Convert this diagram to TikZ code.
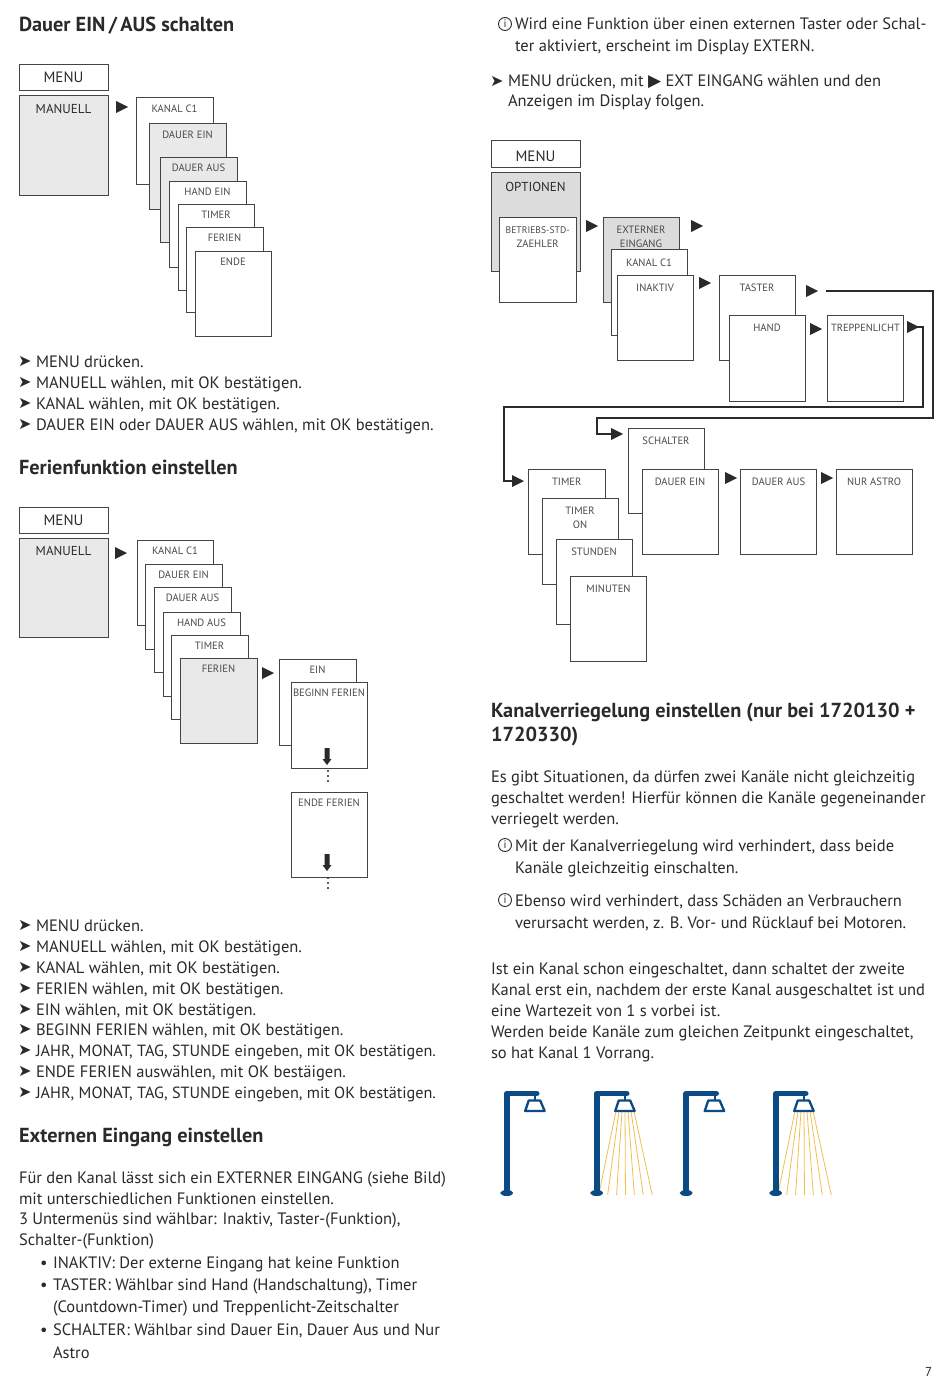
\documentclass[tikz,border=0pt]{standalone}
\usepackage{fontspec}
\usetikzlibrary{calc}
\setmainfont{PT Sans}
\newfontfamily\djf{DejaVu Sans}
\definecolor{ink}{HTML}{2A2A2A}
\definecolor{boxline}{HTML}{444444}
\definecolor{lite}{HTML}{E9E9E9}
\definecolor{midg}{HTML}{DCDCDC}
\definecolor{lampblue}{HTML}{0B4A82}
\definecolor{rayc}{HTML}{F2BE4E}
\newcounter{tn}
\newcommand\laby{14.5}
\tikzset{
  txt/.style={anchor=base west,inner sep=0pt,outer sep=0pt,text=ink,font=\fontsize{16.5}{21}\selectfont},
  head/.style={anchor=base west,inner sep=0pt,outer sep=0pt,text=ink,font=\fontsize{20.3}{24}\selectfont\bfseries},
  scrbox/.style={draw=boxline,line width=1pt,anchor=north west,inner sep=0pt,outer sep=0pt},
  scrlab/.style={anchor=base,inner sep=0pt,text=ink!85!white,align=center,font=\fontsize{10.6}{13.5}\selectfont},
  twolab/.style={scrlab,yshift=-13.5pt},
  biglab/.style={anchor=base,inner sep=0pt,text=ink,yshift=-3pt,font=\fontsize{13}{16}\selectfont},
  menulab/.style={anchor=base,inner sep=0pt,text=ink,yshift=-3.5pt,font=\fontsize{15}{18}\selectfont},
  conn/.style={draw=ink,line width=1.5pt,line join=miter},
  infoc/.style={circle,draw=ink,line width=.9pt,inner sep=0pt,minimum size=13pt,text=ink,font=\fontsize{11}{11}\selectfont},
  bul/.style={anchor=base west,inner sep=0pt,text=ink,font=\djf\fontsize{16}{16}\selectfont},
}
\newcommand\Tx[3]{\stepcounter{tn}\node[txt](t\thetn) at (#1,#2+6){#3};}
\newcommand\Tb[3]{\stepcounter{tn}\node[bul](b\thetn) at (#1-1,#2+5.5){➤};\node[txt](t\thetn) at (#1+17,#2+6){#3};}
\newcommand\Info[2]{\stepcounter{tn}\node[infoc](i\thetn) at (#1,#2){i};}
\newcommand\Hd[3]{\stepcounter{tn}\node[head](h\thetn) at (#1,#2+7){#3};}
\newcommand\Bx[8][scrlab]{%
  \pgfmathsetmacro\wv{#5-#3}\pgfmathsetmacro\hv{#6-#4}%
  \node[scrbox,fill=#7,minimum width=\wv pt,minimum height=\hv pt] (#2) at (#3,#4) {};
  \path (#2.north) ++(0,\laby) node[#1] (#2-t) {#8};
}
\newcommand\tri[3]{\coordinate (#1) at (#2,#3);\fill[ink] (#1) ++(0,-6) -- ++(12,6) -- ++(-12,6) -- cycle;}
\newcommand\downarr[3]{\coordinate (#1) at (#2,#3);\fill[ink] (#1) ++(-2.5,0) -- ++(5,0) -- ++(0,11) -- ++(2,0) -- ++(-4.5,6) -- ++(-4.5,-6) -- ++(2,0) -- cycle;}
\newcommand\vdotsn[3]{\coordinate (#1) at (#2,#3);\fill[ink] (#1) circle (1.1) ++(0,5) circle (1.1) ++(0,5) circle (1.1);}
\newcommand\lamp[2]{%
  \begin{scope}[shift={(#1,0)}]
  \ifnum#2=1
    \foreach \i in {0,...,6}{\draw[rayc,line width=.8pt] ({19.3+3*\i},1111) -- ({2+8.92*\i},1195);}
  \fi
  \draw[lampblue,line width=5.6pt,line join=round,line cap=round] (0,1192) -- (0,1093.5) -- (30,1093.5);
  \fill[lampblue] (0,1193) ellipse (6.5 and 3);
  \draw[lampblue,line width=1.8pt] (28.5,1093) -- (28.5,1100);
  \draw[lampblue,line width=2.3pt,line join=round,fill=white] (22,1100.5) -- (33.5,1100.5) -- (38,1111) -- (18.5,1111) -- cycle;
  \end{scope}}
\begin{document}
\begin{tikzpicture}[x=1pt,y=-1pt]
\useasboundingbox (0,0) rectangle (950,1378);
\fill[white] (0,0) rectangle (950,1378);

% --- left column, diagram 1
\Hd{19}{25}{Dauer EIN\,/\,AUS schalten}
\Bx[menulab]{m1}{19}{65}{108}{91}{white}{MENU}
\Bx[biglab]{m1b}{19}{96}{108}{195}{lite}{MANUELL}
\tri{a1}{116}{107}
\Bx{k1}{136}{98}{213}{184}{white}{KANAL C1}
\Bx{k2}{149}{124}{226}{209}{lite}{DAUER EIN}
\Bx{k3}{160}{157}{237}{242}{lite}{DAUER AUS}
\Bx{k4}{169}{181}{246}{267}{white}{HAND EIN}
\Bx{k5}{178}{204}{254}{290}{white}{TIMER}
\Bx{k6}{186}{227}{263}{312}{white}{FERIEN}
\Bx{k7}{195}{251}{271}{336}{white}{ENDE}
\Tb{19}{361}{MENU drücken.}
\Tb{19}{382}{MANUELL wählen, mit OK bestätigen.}
\Tb{19}{403}{KANAL wählen, mit OK bestätigen.}
\Tb{19}{424}{DAUER EIN oder DAUER AUS wählen, mit OK bestätigen.}

% --- left column, diagram 2
\Hd{19}{467}{Ferienfunktion einstellen}
\Bx[menulab]{m2}{19}{507}{108}{533}{white}{MENU}
\Bx[biglab]{m2b}{19}{538}{108}{637}{lite}{MANUELL}
\tri{a2}{115}{553}
\Bx{f1}{137}{540}{213}{625}{white}{KANAL C1}
\Bx{f2}{145}{564}{222}{649}{white}{DAUER EIN}
\Bx{f3}{154}{587}{231}{672}{white}{DAUER AUS}
\Bx{f4}{163}{612}{240}{696}{white}{HAND AUS}
\Bx{f5}{171}{635}{248}{719}{white}{TIMER}
\Bx{f6}{180}{658}{257}{743}{lite}{FERIEN}
\tri{a3}{262}{673}
\Bx{e1}{279}{659}{356}{745}{white}{EIN}
\Bx{e2}{291}{682}{367}{768}{white}{BEGINN FERIEN}
\downarr{d1}{327}{748}
\vdotsn{v1}{328}{771}
\Bx{e3}{291}{792}{367}{877}{white}{ENDE FERIEN}
\downarr{d2}{327}{854}
\vdotsn{v2}{328}{878}
\Tb{19}{925}{MENU drücken.}
\Tb{19}{946}{MANUELL wählen, mit OK bestätigen.}
\Tb{19}{967}{KANAL wählen, mit OK bestätigen.}
\Tb{19}{988}{FERIEN wählen, mit OK bestätigen.}
\Tb{19}{1009}{EIN wählen, mit OK bestätigen.}
\Tb{19}{1029}{BEGINN FERIEN wählen, mit OK bestätigen.}
\Tb{19}{1050}{\fontsize{16.2}{21}\selectfont JAHR, MONAT, TAG, STUNDE eingeben, mit OK bestätigen.}
\Tb{19}{1071}{ENDE FERIEN auswählen, mit OK bestäigen.}
\Tb{19}{1092}{\fontsize{16.2}{21}\selectfont JAHR, MONAT, TAG, STUNDE eingeben, mit OK bestätigen.}

\Hd{19}{1135}{Externen Eingang einstellen}
\Tx{19}{1177}{Für den Kanal lässt sich ein EXTERNER EINGANG (siehe Bild)}
\Tx{19}{1198}{mit unterschiedlichen Funktionen einstellen.}
\Tx{19}{1218}{3 Untermenüs sind wählbar: Inaktiv, Taster-(Funktion),}
\Tx{19}{1239}{Schalter-(Funktion)}
\Tx{40}{1262}{•}
\Tx{53}{1262}{INAKTIV: Der externe Eingang hat keine Funktion}
\Tx{40}{1284}{•}
\Tx{53}{1284}{TASTER: Wählbar sind Hand (Handschaltung), Timer}
\Tx{53}{1306}{(Countdown-Timer) und Treppenlicht-Zeitschalter}
\Tx{40}{1329}{•}
\Tx{53}{1329}{SCHALTER: Wählbar sind Dauer Ein, Dauer Aus und Nur}
\Tx{53}{1352}{Astro}

% --- right column text
\Info{505}{24}
\Tx{515}{24}{Wird eine Funktion über einen externen Taster oder Schal-}
\Tx{515}{46}{ter aktiviert, erscheint im Display EXTERN.}
\Tb{491}{81}{MENU drücken, mit {\djf\fontsize{17}{17}\selectfont ▶} EXT EINGANG wählen und den}
\Tx{508}{101}{Anzeigen im Display folgen.}

% --- right column diagram
\renewcommand\laby{16.5}
\Bx[menulab]{r1}{491}{141}{580}{167}{white}{MENU}
\Bx[biglab]{r2}{491}{172}{580}{271}{midg}{OPTIONEN}
\Bx[twolab]{r3}{499.5}{217}{576}{302}{white}{\fontsize{9.6}{13.5}\selectfont BETRIEBS-STD-\\ZAEHLER}
\tri{ra1}{586}{226}
\Bx[twolab]{r4}{603}{217}{679}{302}{midg}{EXTERNER\\EINGANG}
\Bx{r5}{611}{249.5}{687}{335}{white}{KANAL C1}
\Bx{r6}{617}{275}{693}{360}{white}{INAKTIV}
\tri{ra2}{691}{226}
\tri{ra3}{699}{283}
\Bx{r7}{719}{275}{795}{360}{white}{TASTER}
\Bx{r8}{729}{315}{805}{401}{white}{HAND}
\tri{ra4}{806}{291}
\tri{ra5}{810}{329}
\Bx{r9}{827.5}{315}{903.5}{401}{white}{\fontsize{10.4}{13}\selectfont TREPPENLICHT}
\tri{ra6}{907}{327}
\tri{ra7}{512}{481}
\tri{ra8}{611}{434}

\coordinate (c1) at (826,291);
\draw[conn] (c1) -- ++(107,0) |- (597,418) |- (ra8);
\draw[conn] ($(ra6)+(8,0)$) -| (923,407) -| (504,481) -- (ra7);

\Bx{r10}{628}{428}{704}{513}{white}{SCHALTER}
\Bx{r11}{642}{469}{718}{554}{white}{DAUER EIN}
\tri{ra9}{725}{478}
\Bx{r12}{740.5}{469}{816.5}{554}{white}{DAUER AUS}
\tri{ra10}{821}{478}
\Bx{r13}{836}{469}{912}{554}{white}{NUR ASTRO}
\Bx{r14}{528.5}{469}{605}{554}{white}{TIMER}
\Bx[twolab]{r15}{542}{498}{618}{584}{white}{TIMER\\ON}
\Bx{r16}{556}{539}{632}{624}{white}{STUNDEN}
\Bx{r17}{570.5}{576}{646.5}{661}{white}{MINUTEN}

\Hd{491}{710}{Kanalverriegelung einstellen (nur bei 1720130 +}
\Hd{491}{734}{1720330)}
\Tx{491}{776}{Es gibt Situationen, da dürfen zwei Kanäle nicht gleichzeitig}
\Tx{491}{797}{geschaltet werden! Hierfür können die Kanäle gegeneinander}
\Tx{491}{818}{verriegelt werden.}
\Info{505}{845}
\Tx{515}{845}{Mit der Kanalverriegelung wird verhindert, dass beide}
\Tx{515}{867}{Kanäle gleichzeitig einschalten.}
\Info{505}{900}
\Tx{515}{900}{Ebenso wird verhindert, dass Schäden an Verbrauchern}
\Tx{515}{922}{verursacht werden, z. B. Vor- und Rücklauf bei Motoren.}
\Tx{491}{968}{Ist ein Kanal schon eingeschaltet, dann schaltet der zweite}
\Tx{491}{989}{Kanal erst ein, nachdem der erste Kanal ausgeschaltet ist und}
\Tx{491}{1010}{eine Wartezeit von 1 s vorbei ist.}
\Tx{491}{1031}{Werden beide Kanäle zum gleichen Zeitpunkt eingeschaltet,}
\Tx{491}{1052}{so hat Kanal 1 Vorrang.}

\lamp{506.7}{0}
\lamp{596.7}{1}
\lamp{686.2}{0}
\lamp{775.7}{1}

\Tx{925}{1370}{\fontsize{13}{13}\selectfont 7}
\end{tikzpicture}
\end{document}
